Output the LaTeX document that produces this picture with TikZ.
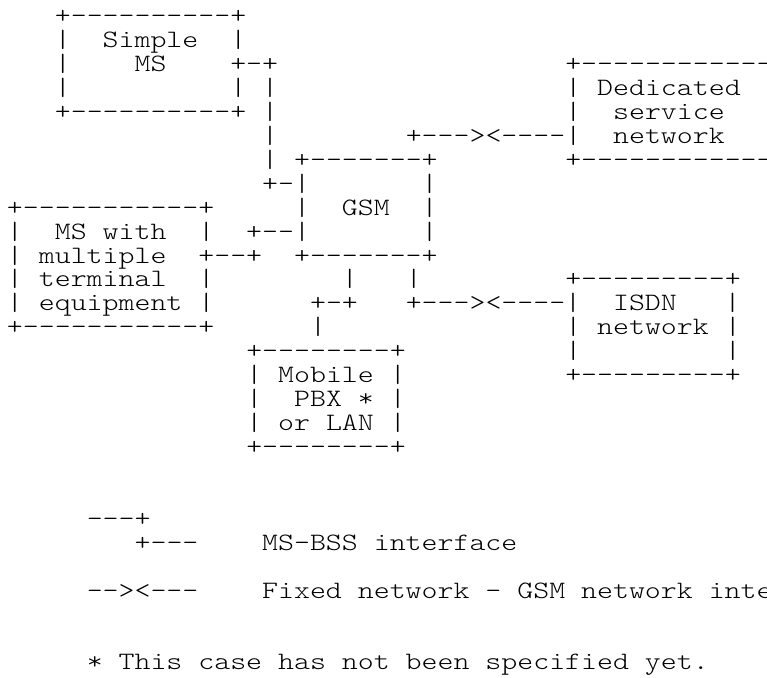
\documentclass[tikz,border=0pt]{standalone}
\usepackage{fontspec}
\setmonofont{Latin Modern Mono Light}
\tikzset{asciiline/.style={anchor=base west, inner sep=0pt, outer sep=0pt, text=black, font=\ttfamily\fontsize{25}{25}\selectfont}}
\newcommand{\asc}[1]{\scalebox{1.2152}[1]{#1}}
\newcommand{\ascline}[4]{\node[asciiline] (#1) at ({7+#2*15.95},{-23.6-#3*23.94}) {\asc{#4}};}
\begin{document}
\begin{tikzpicture}[x=1pt,y=1pt]
\useasboundingbox (0,0) rectangle (767,-677);
\fill[white] (0,0) rectangle (767,-677);
\clip (0,0) rectangle (767,-677);
\ascline{r0a}{3}{0}{+----------+}
\ascline{r1a}{3}{1}{|~~Simple~~|}
\ascline{r2a}{3}{2}{|~~~~MS~~~~+-+}
\ascline{r2b}{35}{2}{+-------------}
\ascline{r3a}{3}{3}{|~~~~~~~~~~|~|}
\ascline{r3b}{35}{3}{|~Dedicated}
\ascline{r4a}{3}{4}{+----------+~|}
\ascline{r4b}{35}{4}{|~~service}
\ascline{r5a}{16}{5}{|}
\ascline{r5b}{25}{5}{+---><----|~~network}
\ascline{r6a}{16}{6}{|~+-------+}
\ascline{r6b}{35}{6}{+-------------}
\ascline{r7a}{16}{7}{+-|~~~~~~~|}
\ascline{r8a}{0}{8}{+-----------+}
\ascline{r8b}{18}{8}{|~~GSM~~|}
\ascline{r9a}{0}{9}{|~~MS~with~~|~~+--|~~~~~~~|}
\ascline{r10a}{0}{10}{|~multiple~~+--+~~+-------+}
\ascline{r11a}{0}{11}{|~terminal~~|}
\ascline{r11b}{21}{11}{|~~~|}
\ascline{r11c}{35}{11}{+---------+}
\ascline{r12a}{0}{12}{|~equipment~|}
\ascline{r12b}{19}{12}{+-+~~~+---><----|~~ISDN~~~|}
\ascline{r13a}{0}{13}{+-----------+}
\ascline{r13b}{19}{13}{|}
\ascline{r13c}{35}{13}{|~network~|}
\ascline{r14a}{15}{14}{+--------+}
\ascline{r14b}{35}{14}{|~~~~~~~~~|}
\ascline{r15a}{15}{15}{|~Mobile~|}
\ascline{r15b}{35}{15}{+---------+}
\ascline{r16a}{15}{16}{|~~PBX~*~|}
\ascline{r17a}{15}{17}{|~or~LAN~|}
\ascline{r18a}{15}{18}{+--------+}
\ascline{k1}{5}{21}{---+}
\ascline{k2}{8}{22}{+---~~~~MS-BSS~interface}
\ascline{k3}{5}{24}{--><---~~~~Fixed~network~-~GSM~network~interface}
\ascline{k4}{5}{27}{*~This~case~has~not~been~specified~yet.}
\end{tikzpicture}
\end{document}
